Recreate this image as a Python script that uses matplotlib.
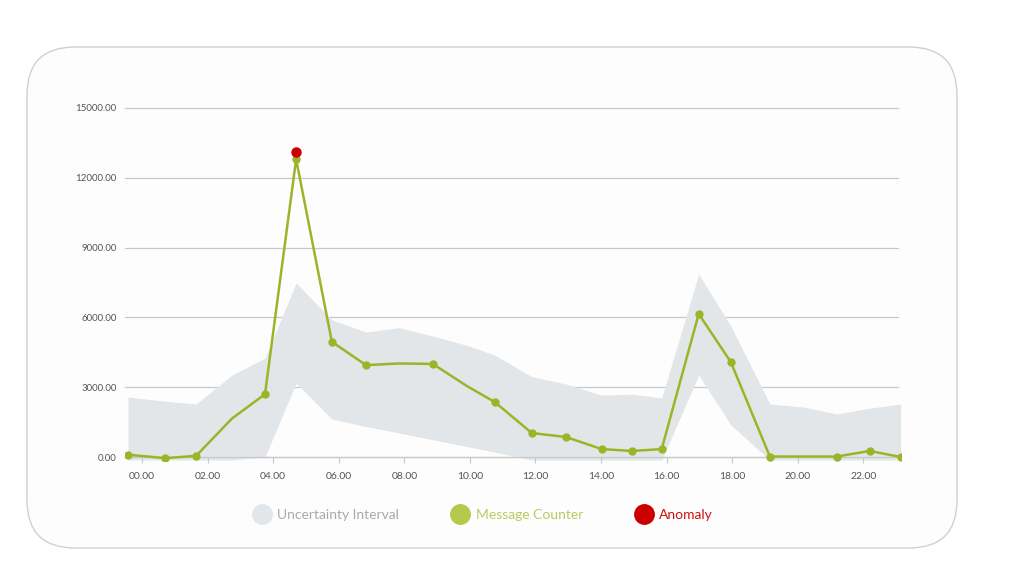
import matplotlib.pyplot as plt
import numpy as np
from matplotlib.patches import FancyBboxPatch
from matplotlib.lines import Line2D

plt.rcParams['font.family'] = ['Lato', 'DejaVu Sans']

horas = [-0.43, 0.70, 1.65, 2.74, 3.75, 4.70, 5.79, 6.83, 7.84, 8.87, 9.91, 10.76,
         11.89, 12.93, 14.02, 14.94, 15.85, 16.98, 17.96, 19.15, 20.18, 21.19, 22.20, 23.14]
mensajes = [100, -50, 50, 1650, 2700, 12800, 4950, 3950, 4020, 4000, 3050, 2360,
            1030, 860, 340, 260, 340, 6150, 4080, 20, 20, 20, 260, 0]
con_marcador = [True, True, True, False, True, True, True, True, False, True, False, True,
                True, True, True, True, True, True, True, True, False, True, True, True]
banda_sup = [2580, 2400, 2280, 3520, 4250, 7480, 5900, 5370, 5560, 5200, 4800, 4380,
             3450, 3140, 2660, 2700, 2540, 7860, 5630, 2280, 2150, 1850, 2100, 2280]
banda_inf = [-130, -130, -130, -130, 0, 3180, 1630, 1310, 1030, 740, 450, 210,
             -130, -130, -130, -130, -130, 3520, 1380, -130, -130, -130, -130, -130]
anomalia_hora = [4.70]
anomalia_valor = [13100]

ticks_x = list(range(0, 24, 2))
etiquetas_x = [f'{h:02d}.00' for h in ticks_x]
ticks_y = [0, 3000, 6000, 9000, 12000, 15000]

verde = '#9ab527'
gris_banda = '#e3e6e9'
rojo = '#cc0000'

fig = plt.figure(figsize=(10.24, 5.70), dpi=100)

# fondo con la tarjeta redondeada
fondo = fig.add_axes([0, 0, 1, 1], zorder=-1)
fondo.set_xlim(0, 1024)
fondo.set_ylim(0, 570)
fondo.axis('off')
fondo.add_patch(FancyBboxPatch((27, 22), 930, 501, boxstyle='round,pad=0,rounding_size=48',
                               facecolor='#fdfdfd', edgecolor='#d0d0d0', linewidth=1.0))

ax = fig.add_axes([125 / 1024, 1 - 460.5 / 570, 776 / 1024, (460.5 - 108) / 570])
ax.patch.set_alpha(0)

ax.fill_between(horas, banda_inf, banda_sup, color=gris_banda, linewidth=0, zorder=1)
ax.plot(horas, mensajes, color=verde, linewidth=1.8, marker='o', markersize=5,
        markevery=con_marcador, zorder=3)
ax.plot(anomalia_hora, anomalia_valor, 'o', color=rojo, markersize=6.5, zorder=4)

ax.set_xlim(-0.52, 23.15)
ax.set_ylim(-150, 15000)

ax.set_yticks(ticks_y)
ax.set_yticklabels([f'{v:.2f}' for v in ticks_y])
ax.set_xticks(ticks_x)
ax.set_xticklabels(etiquetas_x)

for v in ticks_y:
    ax.axhline(v, xmax=0.996, color='#c8c8c8', linewidth=0.9, zorder=0.5, clip_on=False)

for lado in ['top', 'right', 'left']:
    ax.spines[lado].set_visible(False)
ax.spines['bottom'].set_position(('data', 0))
ax.spines['bottom'].set_color('#c8c8c8')
ax.spines['bottom'].set_linewidth(0.9)

ax.tick_params(axis='y', length=0, pad=6, labelsize=7, labelcolor='#555555')
ax.tick_params(axis='x', length=4, color='#c8c8c8', pad=7, labelsize=7.5, labelcolor='#555555')

# leyenda
manejadores = [
    Line2D([], [], marker='o', linestyle='none', markersize=14, color=gris_banda),
    Line2D([], [], marker='o', linestyle='none', markersize=14, color='#b5c94a'),
    Line2D([], [], marker='o', linestyle='none', markersize=14, color=rojo),
]
fig.legend(manejadores, ['Uncertainty Interval', 'Message Counter', 'Anomaly'],
           loc='center', bbox_to_anchor=(0.472, 0.0965), ncol=3, frameon=False,
           fontsize=10, handletextpad=0.5, columnspacing=3.8, handlelength=1.2,
           labelcolor=['#aaaaaa', '#b9cc5e', '#d01010'])

fig.savefig('out.png', dpi=100)
